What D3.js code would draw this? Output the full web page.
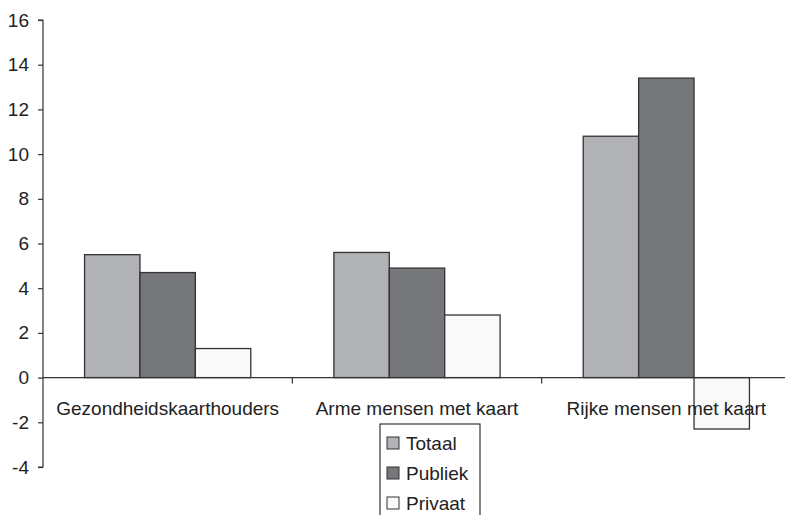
<!DOCTYPE html>
<html>
<head>
<meta charset="utf-8">
<script src="https://cdn.jsdelivr.net/npm/d3@7"></script>
<style>
  body { margin: 0; background: #fff; }
  svg { display: block; }
</style>
</head>
<body>
<div id="chart"></div>
<script>
// Data.
const categories = ["Gezondheidskaarthouders", "Arme mensen met kaart", "Rijke mensen met kaart"];
const seriesNames = ["Totaal", "Publiek", "Privaat"];
const totaal = [5.5, 5.6, 10.8];
const publiek = [4.7, 4.9, 13.4];
const privaat = [1.3, 2.8, -2.3];
const yTicks = [-4, -2, 0, 2, 4, 6, 8, 10, 12, 14, 16];

const colours = ["#b1b2b6", "#76777b", "#f9f9f9"];
const values = [totaal, publiek, privaat];

const width = 785;
const height = 515;
const marginLeft = 43;
const marginRight = -6;
const marginTop = 20;
const plotBottom = 467;
const fontSize = 19;

const svg = d3.select("#chart").append("svg")
  .attr("width", width)
  .attr("height", height)
  .style("font-family", "'Liberation Sans', Arial, sans-serif");

// scales
const y = d3.scaleLinear()
  .domain([-4, 16])
  .range([plotBottom, marginTop]);

const x = d3.scaleBand()
  .domain(categories)
  .range([marginLeft, width - marginRight])
  .paddingInner(0)
  .paddingOuter(0);

const xs = d3.scaleBand()
  .domain(seriesNames)
  .range([0, x.bandwidth()])
  .paddingOuter(0.75)
  .paddingInner(0);

// bars
const groups = svg.append("g")
  .selectAll("g")
  .data(categories)
  .join("g")
  .attr("transform", (d) => `translate(${x(d)},0)`);

groups.selectAll("rect")
  .data((c, i) => seriesNames.map((s, j) => ({ s: s, v: values[j][i], c: colours[j] })))
  .join("rect")
  .attr("x", (d) => xs(d.s))
  .attr("width", xs.bandwidth())
  .attr("y", (d) => y(Math.max(0, d.v)))
  .attr("height", (d) => Math.abs(y(d.v) - y(0)))
  .attr("fill", (d) => d.c)
  .attr("stroke", "#333")
  .attr("stroke-width", 1.3);

// y axis
const yAxis = svg.append("g")
  .attr("transform", `translate(${marginLeft},0)`)
  .call(d3.axisLeft(y).tickValues(yTicks).tickSize(5).tickPadding(9).tickFormat((d) => String(d)));
yAxis.selectAll("path, line").attr("stroke", "#333").attr("stroke-width", 1.2);
yAxis.select(".domain").attr("d", `M-5,${y(16)}H0V${y(-4)}H-5`);
yAxis.selectAll("text").attr("font-size", fontSize).attr("fill", "#222").style("font-family", "inherit");

// x axis at zero
svg.append("line")
  .attr("x1", marginLeft).attr("x2", width)
  .attr("y1", y(0)).attr("y2", y(0))
  .attr("stroke", "#333").attr("stroke-width", 1.2);

svg.append("g")
  .selectAll("line")
  .data(categories.slice(1))
  .join("line")
  .attr("x1", (d) => x(d)).attr("x2", (d) => x(d))
  .attr("y1", y(0)).attr("y2", y(0) + 6)
  .attr("stroke", "#333").attr("stroke-width", 1.2);

svg.append("g")
  .selectAll("text")
  .data(categories)
  .join("text")
  .attr("x", (d) => x(d) + x.bandwidth() / 2)
  .attr("y", y(0) + 37)
  .attr("text-anchor", "middle")
  .attr("font-size", fontSize)
  .attr("fill", "#222")
  .text((d) => d);

// legend
const legend = svg.append("g").attr("transform", "translate(380,424)");
legend.append("rect")
  .attr("width", 100).attr("height", 100)
  .attr("fill", "#fff").attr("stroke", "#333").attr("stroke-width", 1.2);

const items = legend.selectAll("g.item")
  .data(seriesNames)
  .join("g")
  .attr("class", "item")
  .attr("transform", (d, i) => `translate(0,${19 + i * 30})`);

items.append("rect")
  .attr("x", 7).attr("y", -6)
  .attr("width", 12).attr("height", 12)
  .attr("fill", (d, i) => colours[i])
  .attr("stroke", "#333").attr("stroke-width", 1);

items.append("text")
  .attr("x", 26).attr("y", 7)
  .attr("font-size", fontSize)
  .attr("fill", "#222")
  .text((d) => d);
</script>
</body>
</html>
